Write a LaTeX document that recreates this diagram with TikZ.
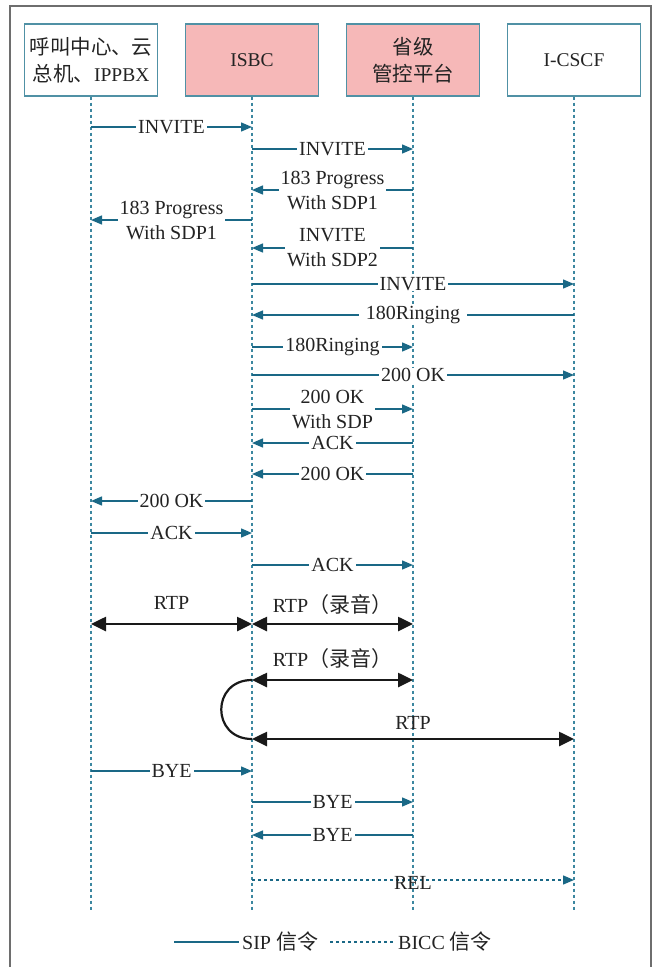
\documentclass[tikz,border=0pt]{standalone}
\usepackage{fontspec}
\setmainfont{Liberation Serif}
\newfontfamily\cjk[Scale=1.05]{Noto Sans CJK SC}
\usetikzlibrary{arrows.meta}
\definecolor{msgc}{RGB}{26,104,134}
\definecolor{lifec}{RGB}{60,135,160}
\definecolor{boxc}{RGB}{80,145,165}
\definecolor{pinkc}{RGB}{246,184,184}
\definecolor{framec}{RGB}{110,110,110}
\definecolor{txtc}{RGB}{35,35,35}
\tikzset{
  actor/.style={draw=boxc, line width=1.3pt, minimum width=133pt, minimum height=72pt, align=center, inner sep=0pt, font=\fontsize{19.5}{27}\selectfont},
  pinkactor/.style={actor, fill=pinkc},
  life/.style={draw=lifec, line width=1.1pt, dash pattern=on 3pt off 3pt},
  msg/.style={draw=msgc, line width=1.4pt, -{Triangle[length=11pt,width=9pt]}},
  rel/.style={msg, dash pattern=on 3pt off 3pt},
  lbl/.style={fill=white, inner xsep=2pt, inner ysep=0.5pt, align=center, text=txtc, font=\fontsize{20}{25}\selectfont},
  rtp/.style={draw=black!90, line width=2.6pt, {Triangle[length=15pt,width=14pt]}-{Triangle[length=15pt,width=14pt]}},
  rtplbl/.style={text=txtc, font=\fontsize{20}{25}\selectfont, inner sep=0pt},
  legtxt/.style={text=txtc, font=\fontsize{20}{25}\selectfont, inner sep=0pt, anchor=west}
}
\newcommand\msg[6][msg]{%
  \coordinate (#6s) at (#2.south |- 0,#4);
  \coordinate (#6e) at (#3.south |- 0,#4);
  \draw[#1] (#6s) -- node[lbl]{#5} (#6e);}
\begin{document}
\begin{tikzpicture}[x=1pt, y=-1pt, text=txtc]
\useasboundingbox (0,0) rectangle (656,967);
\draw[framec, line width=1.6pt] (10,967) -- (10,6) -- (651,6) -- (651,967);
% actors
\node[actor] (a) at (91,60) {{\cjk 呼叫中心、云}\\{\cjk 总机、}IPPBX};
\node[pinkactor] (b) at (252,60) {ISBC};
\node[pinkactor] (c) at (413,60) {{\cjk 省级}\\{\cjk 管控平台}};
\node[actor] (d) at (574,60) {I-CSCF};
% lifelines
\foreach \n in {a,b,c,d}{
  \coordinate (\n-end) at (\n.south |- 0,912);
  \draw[life] (\n.south) -- (\n-end);
}
% messages
\msg{a}{b}{127}{INVITE}{m1}
\msg{b}{c}{149}{INVITE}{m2}
\msg{c}{b}{190}{183 Progress\\With SDP1}{m3}
\msg{b}{a}{220}{183 Progress\\With SDP1}{m4}
\msg{c}{b}{248}{INVITE\\With SDP2}{m5}
\msg{b}{d}{284}{INVITE}{m6}
\msg{d}{b}{315}{\hspace{5pt}180Ringing\hspace{5pt}}{m7}
\msg{b}{c}{347}{180Ringing}{m8}
\msg{b}{d}{375}{200 OK}{m9}
\msg{b}{c}{409}{200 OK\\With SDP}{m10}
\msg{c}{b}{443}{ACK}{m11}
\msg{c}{b}{474}{200 OK}{m12}
\msg{b}{a}{501}{200 OK}{m13}
\msg{a}{b}{533}{ACK}{m14}
\msg{b}{c}{565}{ACK}{m15}
% RTP
\coordinate (r1s) at (a.south |- 0,624);
\coordinate (r1e) at (b.south |- 0,624);
\draw[rtp] (r1s) -- node[rtplbl, yshift=21pt]{RTP} (r1e);
\coordinate (r2s) at (b.south |- 0,624);
\coordinate (r2e) at (c.south |- 0,624);
\draw[rtp] (r2s) -- node[rtplbl, yshift=19pt]{RTP{\cjk （录音）}} (r2e);
\coordinate (r3s) at (b.south |- 0,680);
\coordinate (r3e) at (c.south |- 0,680);
\draw[rtp] (r3s) -- node[rtplbl, yshift=21pt]{RTP{\cjk （录音）}} (r3e);
\coordinate (r4s) at (b.south |- 0,739);
\coordinate (r4e) at (d.south |- 0,739);
\draw[rtp] (r4s) -- node[rtplbl, yshift=16pt]{RTP} (r4e);
\draw[black!90, line width=2.2pt] (r3s) .. controls (211,680) and (211,739) .. (r4s);
% BYE
\msg{a}{b}{771}{BYE}{m16}
\msg{b}{c}{802}{BYE}{m17}
\msg{c}{b}{835}{BYE}{m18}
\coordinate (m19s) at (b.south |- 0,880);
\coordinate (m19e) at (d.south |- 0,880);
\draw[rel] (m19s) -- node[rtplbl, yshift=-3pt]{REL} (m19e);
% legend
\coordinate (l1s) at (174,942);
\coordinate (l1e) at (239,942);
\draw[draw=msgc, line width=1.4pt] (l1s) -- (l1e);
\node[legtxt] (l1t) at (242,942) {SIP {\cjk 信令}};
\coordinate (l2s) at (330,942);
\coordinate (l2e) at (395,942);
\draw[draw=msgc, line width=1.4pt, dash pattern=on 3pt off 3pt] (l2s) -- (l2e);
\node[legtxt] (l2t) at (398,942) {BICC {\cjk 信令}};
\end{tikzpicture}
\end{document}
